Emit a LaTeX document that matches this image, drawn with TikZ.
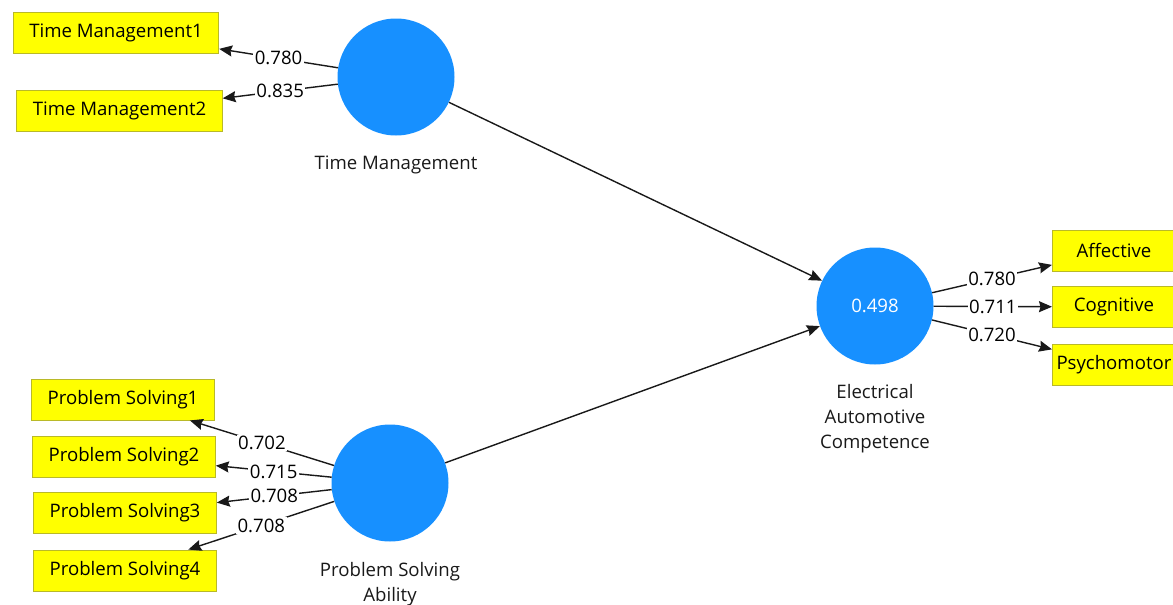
\documentclass[tikz,border=0pt]{standalone}
\usepackage{fontspec}
\setmainfont{Open Sans}
\usetikzlibrary{positioning,arrows.meta}
\definecolor{lvblue}{RGB}{23,144,255}
\definecolor{mvyellow}{RGB}{255,255,0}
\definecolor{mvborder}{RGB}{185,185,40}

\begin{document}
\begin{tikzpicture}[x=1pt, y=-1pt]
\tikzstyle{every node}=[font=\fontsize{18.6pt}{25pt}\selectfont]
\tikzstyle{lv}=[circle, fill=lvblue, minimum size=117pt, inner sep=0pt, text=white]
\tikzstyle{mv}=[draw=mvborder, fill=mvyellow, minimum height=41pt, inner xsep=16pt, line width=0.9pt, text=black]
\tikzstyle{mvr}=[mv, anchor=west, inner xsep=2pt, minimum width=123pt]
\tikzstyle{lvname}=[align=center, text=black!90, inner sep=0pt]
\tikzstyle{ld}=[midway, fill=white, inner sep=1.5pt, text=black]
\tikzstyle{arr}=[line width=1.4pt, draw=black!90, -{Stealth[length=13pt, width=11pt, inset=1.5pt]}]

\useasboundingbox (0,0) rectangle (1173,605);

% latent variables
\node[lv] (TM) at (396,77) {};
\node[lv] (PS) at (390,483) {};
\node[lv] (EAC) at (875,306) {0.498};
\node[lvname, below=20pt of TM] (TMname) {Time Management};
\node[lvname, below=20pt of PS] (PSname) {Problem Solving\\Ability};
\node[lvname, below=19pt of EAC] (EACname) {Electrical\\Automotive\\Competence};

% indicators
\node[mv] (TM1) at (116,32.5) {Time Management1};
\node[mv] (TM2) at (119.5,111) {Time Management2};
\node[mv] (PS1) at (123,399.5) {Problem Solving1};
\node[mv] (PS2) at (124,456.5) {Problem Solving2};
\node[mv] (PS3) at (125,513) {Problem Solving3};
\node[mv] (PS4) at (125,570.5) {Problem Solving4};
\node[mvr] (AF) at (1052,250.5) {Affective};
\node[mvr] (CG) at (1052,307) {Cognitive};
\node[mvr] (PM) at (1052,364.5) {Psychomotor};

% outer loadings
\draw[arr] (TM) -- node[ld] {0.780} (TM1);
\draw[arr] (TM) -- node[ld] {0.835} (TM2);
\draw[arr] (PS) -- node[ld] {0.702} (PS1);
\draw[arr] (PS) -- node[ld] {0.715} (PS2);
\draw[arr] (PS) -- node[ld] {0.708} (PS3);
\draw[arr] (PS) -- node[ld] {0.708} (PS4);
\draw[arr] (EAC) -- node[ld] {0.780} (AF);
\draw[arr] (EAC) -- node[ld] {0.711} (CG);
\draw[arr] (EAC) -- node[ld] {0.720} (PM);

% structural paths
\draw[arr] (TM) -- (EAC);
\draw[arr] (PS) -- (EAC);
\end{tikzpicture}
\end{document}
